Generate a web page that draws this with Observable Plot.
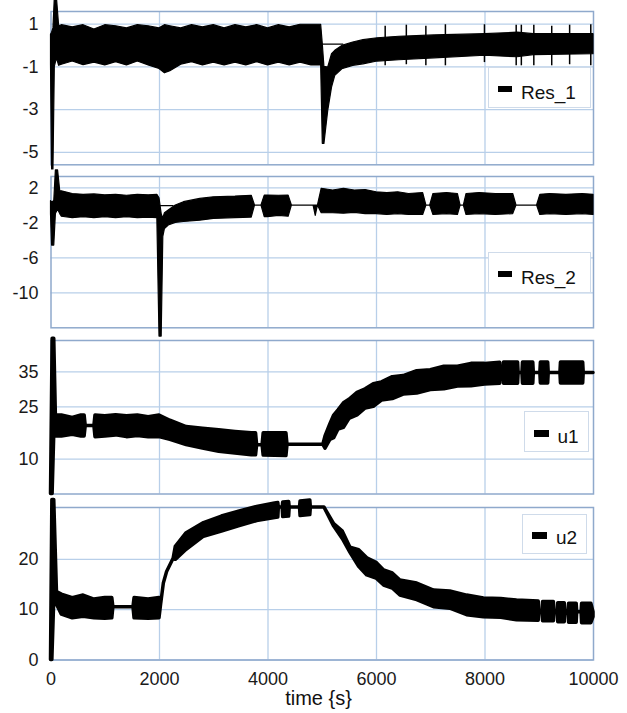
<!DOCTYPE html>
<html><head><meta charset="utf-8">
<script src="https://cdn.jsdelivr.net/npm/d3@7"></script>
<script src="https://cdn.jsdelivr.net/npm/@observablehq/plot@0.6"></script>
<style>
body{margin:0;background:#fff;font-family:"Liberation Sans",Arial,sans-serif;}
#chart{position:relative;width:627px;height:713px;overflow:hidden;background:#fff;}
.panel{position:absolute;left:0;}
.panel svg{overflow:visible;background:transparent;}
.legend{position:absolute;background:#fff;border:1px solid #cfdbea;box-sizing:border-box;font-size:19px;color:#111;}
.legend .sw{position:absolute;background:#000;}
.legend .lb{position:absolute;line-height:19px;white-space:nowrap;}
.xtitle{position:absolute;left:0;width:637px;text-align:center;font-size:20px;line-height:20px;color:#111;}
</style></head><body><div id="chart"></div>
<script>
// ---- shared axis data ----
const xTicks = [0, 2000, 4000, 6000, 8000, 10000];
const xGridTicks = [2000, 4000, 6000, 8000];
const xTitle = "time {s}";

// ---- Res_1 (envelope of the oscillating signal) ----
const res1Name = "Res_1";
const res1Ticks = [1, -1, -3, -5];
const res1Time = [0,20,45,70,110,150,200,400,600,800,1000,1200,1400,1600,1800,2000,2100,2200,2400,2600,2800,3000,3200,3400,3600,3800,4000,4200,4400,4600,4800,4980,5010,5040,5110,5180,5240,5370,5570,5760,6020,6420,7070,8000,8600,8900,10000];
const res1Low  = [-0.9,-5.8,-5.8,-1.0,-0.6,-0.95,-0.9,-0.75,-0.92,-0.8,-0.93,-0.78,-0.93,-0.75,-0.93,-1.1,-1.3,-1.2,-0.9,-0.78,-0.93,-0.8,-0.93,-0.8,-0.93,-0.78,-0.93,-0.8,-0.93,-0.8,-0.93,-0.93,-4.6,-4.6,-3.06,-1.97,-1.42,-1.11,-0.95,-0.88,-0.75,-0.69,-0.6,-0.48,-0.55,-0.45,-0.41];
const res1High = [0.5,0.6,0.8,2.2,2.2,0.9,0.95,0.85,0.95,0.75,0.95,0.9,0.8,0.95,0.9,0.8,0.95,0.9,0.8,0.95,0.85,0.95,0.8,0.95,0.85,0.95,0.8,0.95,0.85,0.97,0.97,0.97,0.06,-1.0,-1.03,-0.41,-0.25,-0.02,0.14,0.25,0.34,0.41,0.47,0.53,0.6,0.53,0.53];
const res1SpikeTime = [6160,6550,6910,7270,7990,8575,8670,8900,9230,9560,9950];
const res1SpikeLow  = [-0.95,-0.9,-0.95,-0.95,-0.8,-0.95,-0.95,-0.95,-0.95,-0.9,-0.95];
const res1SpikeHigh = [0.9,0.95,0.9,0.97,0.97,0.95,0.95,0.95,0.9,0.95,0.97];
const res1HoldTime = [4990, 5380];
const res1HoldValue = [0.06, 0.06];

// ---- Res_2 ----
const res2Name = "Res_2";
const res2Ticks = [2, -2, -6, -10];
const res2Time = [0,20,60,90,130,170,200,400,600,800,1000,1200,1400,1600,1800,1960,2000,2040,2070,2100,2170,2300,2450,2750,3000,3400,3700,3760,3880,3940,4000,4200,4380,4440,4840,4880,4920,4990,5200,5400,5600,5800,6000,6200,6400,6600,6860,6920,6990,7050,7300,7500,7550,7610,7660,7900,8200,8520,8580,8960,9020,9200,9500,9800,10000];
const res2Low  = [-1.0,-4.6,-4.6,-1.0,-0.5,-1.0,-1.3,-1.45,-1.35,-1.45,-1.35,-1.45,-1.35,-1.45,-1.4,-1.45,-15,-15,-3.6,-2.7,-2.3,-2.0,-1.9,-1.75,-1.55,-1.45,-1.4,-0.02,-0.02,-1.35,-1.35,-1.2,-1.3,-0.02,-0.02,-1.2,-0.02,-0.9,-0.9,-0.95,-0.85,-1.0,-1.0,-1.1,-1.0,-1.1,-1.1,-0.02,-0.02,-1.1,-1.0,-1.1,-0.02,-0.02,-1.1,-1.0,-1.1,-1.0,-0.02,-0.02,-1.1,-1.0,-1.1,-1.0,-1.1];
const res2High = [0.5,0.3,0.5,4.0,4.0,1.6,1.6,1.3,1.2,1.25,1.15,1.2,1.1,1.2,1.15,1.2,0.8,-1.0,-1.5,-0.9,-0.59,-0.02,0.36,0.74,0.93,1.0,1.1,-0.02,-0.02,1.12,1.12,1.1,1.12,-0.02,-0.02,-0.02,-0.02,1.9,1.7,1.9,1.7,1.75,1.5,1.4,1.5,1.3,1.4,-0.02,-0.02,1.3,1.4,1.3,-0.02,-0.02,1.3,1.4,1.3,1.3,-0.02,-0.02,1.2,1.3,1.2,1.3,1.2];
const res2HoldTime = [2000, 2250];
const res2HoldValue = [-0.02, -0.02];

// ---- u1 ----
const u1Name = "u1";
const u1Ticks = [35, 25, 10];
const u1Time = [0,30,60,90,200,400,560,620,640,800,820,1000,1200,1400,1600,1800,2000,2200,2500,2800,3100,3400,3700,3780,3800,3900,3920,4340,4360,5020,5060,5150,5220,5300,5400,5500,5650,5800,5950,6100,6300,6500,6750,7000,7250,7500,7750,8000,8280,8290,8340,8350,8610,8620,8690,8700,8890,8900,9020,9030,9165,9175,9390,9400,9810,9820,10000];
const u1Low  = [0,0,17,16.5,16.5,17.0,16.5,16.5,19.5,19.5,16.3,16.5,16.8,16.3,16.6,16.3,16.3,15.5,14.0,13.0,12.1,11.6,11.1,11.1,14.0,14.0,11.0,10.9,14.1,14.1,13.0,15.5,16.0,18.5,19.0,21.5,22.5,24.5,25.0,26.8,27.2,28.5,28.8,29.8,30.0,30.8,30.9,31.4,31.6,34.7,34.7,31.6,31.6,34.7,34.7,31.6,31.6,34.7,34.7,31.7,31.7,34.7,34.7,31.7,31.7,34.7,34.7];
const u1High = [0,44.5,44.5,22.5,22.5,21.8,22.5,22.5,19.5,19.5,22.5,22.3,22.6,22.3,22.5,22.0,22.5,21.0,19.2,18.7,18.3,17.8,17.4,17.4,14.0,14.0,17.4,17.4,14.1,14.1,16.5,20.0,22.5,24.0,26.0,27.0,29.0,30.0,31.5,32.0,33.5,33.8,35.2,35.5,36.5,36.5,37.3,37.3,37.6,34.7,34.7,37.7,37.7,34.7,34.7,37.7,37.7,34.7,34.7,37.7,37.7,34.7,34.7,37.7,37.7,34.7,34.7];

// ---- u2 ----
const u2Name = "u2";
const u2Ticks = [20, 10, 0];
const u2Time = [0,25,60,110,200,400,600,800,1000,1130,1150,1520,1540,1800,2000,2030,2080,2140,2260,2300,2500,2820,3150,3480,3800,4130,4190,4200,4270,4280,4390,4400,4590,4600,4780,4790,5040,5220,5380,5520,5680,5830,6000,6140,6300,6440,6750,7060,7360,7670,7980,8300,8590,8990,9000,9060,9070,9270,9280,9340,9350,9470,9480,9540,9550,9690,9700,9780,9790,9960,10000];
const u2Low  = [0,0,12,11,9.0,8.3,8.6,8.3,8.2,8.3,10.5,10.5,8.3,8.2,8.3,11,15.2,17.5,20.1,19.9,21.9,24.5,25.5,26.6,27.6,28.2,28.3,30.3,30.3,28.4,28.5,30.3,30.3,28.6,28.8,30.3,30.3,26.5,24.0,21.3,18.5,16.8,16.2,14.8,14.2,12.8,11.9,10.5,10.2,8.9,8.5,8.4,7.9,7.8,9.5,9.5,7.7,7.7,9.5,9.5,7.5,7.5,9.5,9.5,7.4,7.4,9.5,9.5,7.3,7.3,8.5];
const u2High = [0,31.8,31.8,13.5,13,12.3,12.8,12.0,12.3,12.3,10.5,10.5,12.3,12.0,12.3,11,15.2,17.5,20.1,22.5,25.2,27.2,28.5,29.5,30.4,31.1,31.2,30.3,30.3,31.3,31.4,30.3,30.3,31.5,31.7,30.3,30.3,27.0,25.5,22.3,21.8,20.2,19.3,17.8,17.2,15.8,15.2,13.8,13.6,12.8,12.2,12.1,11.8,11.6,9.5,9.5,11.5,11.5,9.5,9.5,11.3,11.3,9.5,9.5,11.2,11.2,9.5,9.5,11.2,11.2,9.5];

// ---- rendering ----
const gridColor = "#b8cfe9";
const frameColor = "#8fa9cc";
const textColor = "#1a1a1a";
const chart = document.getElementById("chart");
const zip = (t, lo, hi) => t.map((v, i) => ({t: v, lo: lo[i], hi: hi[i]}));
const fmt = d => String(d);

function panel(cfg) {
  const mt = 12, mb = cfg.mb ?? 12;
  const marks = [
    Plot.gridX(xGridTicks, {stroke: gridColor, strokeOpacity: 1, strokeWidth: 1.3}),
    Plot.gridY(cfg.ticks, {stroke: gridColor, strokeOpacity: 1, strokeWidth: 1.3}),
    Plot.frame({stroke: frameColor, strokeWidth: 1.5}),
    Plot.areaY(zip(cfg.time, cfg.low, cfg.high), {x: "t", y1: "lo", y2: "hi", fill: "#000", stroke: "#000", strokeWidth: cfg.sw, strokeLinejoin: "round"}),
    ...(cfg.extra || []),
    Plot.axisY(cfg.ticks, {tickSize: 0, tickPadding: 12.5, tickFormat: fmt, fontSize: 18, fill: textColor})
  ];
  if (cfg.xAxis) marks.push(Plot.axisX(xTicks, {tickSize: 0, tickPadding: 12, tickFormat: fmt, fontSize: 18, fill: textColor, label: null}));
  const svg = Plot.plot({
    width: 627, height: mt + cfg.frameH + mb,
    marginTop: mt, marginBottom: mb, marginLeft: 50.5, marginRight: 34,
    x: {domain: [0, 10000], axis: cfg.xAxis ? undefined : null},
    y: {domain: cfg.domain},
    style: {fontFamily: '"Liberation Sans", Arial, sans-serif', background: "transparent", overflow: "visible"},
    marks
  });
  const d = document.createElement("div");
  d.className = "panel";
  d.style.top = (cfg.frameTop - mt) + "px";
  d.appendChild(svg);
  chart.appendChild(d);
}

panel({time: res1Time, low: res1Low, high: res1High, ticks: res1Ticks, domain: [-5.58, 1.59], frameTop: 10.7, frameH: 153.3, sw: 1.2,
  extra: [
    Plot.ruleX(zip(res1SpikeTime, res1SpikeLow, res1SpikeHigh), {x: "t", y1: "lo", y2: "hi", stroke: "#000", strokeWidth: 1.5}),
    Plot.line(res1HoldTime.map((t, i) => ({t, v: res1HoldValue[i]})), {x: "t", y: "v", stroke: "#000", strokeWidth: 1.2})
  ]});
panel({time: res2Time, low: res2Low, high: res2High, ticks: res2Ticks, domain: [-14, 3.3], frameTop: 176.3, frameH: 151.3, sw: 1.2,
  extra: [
    Plot.line(res2HoldTime.map((t, i) => ({t, v: res2HoldValue[i]})), {x: "t", y: "v", stroke: "#000", strokeWidth: 1.2})
  ]});
panel({time: u1Time, low: u1Low, high: u1High, ticks: u1Ticks, domain: [0, 44], frameTop: 340.3, frameH: 153.5, sw: 3.5});
panel({time: u2Time, low: u2Low, high: u2High, ticks: u2Ticks, domain: [0, 30.3], frameTop: 507.3, frameH: 152.5, sw: 3.5, mb: 45, xAxis: true});

// ---- legends (HTML) ----
const legends = [
  {name: res1Name, left: 488, top: 67, w: 103, h: 41, sx: 9, sy: 18, sw: 14, sh: 6, tx: 32, ty: 14.5},
  {name: res2Name, left: 488, top: 252, w: 103, h: 41, sx: 9, sy: 18, sw: 14, sh: 6, tx: 32, ty: 15},
  {name: u1Name, left: 524, top: 411, w: 65, h: 41, sx: 9, sy: 18, sw: 15, sh: 6.5, tx: 32.5, ty: 15},
  {name: u2Name, left: 522, top: 514, w: 65, h: 40, sx: 9, sy: 17, sw: 15, sh: 6.5, tx: 33, ty: 13.3}
];
for (const L of legends) {
  const b = document.createElement("div");
  b.className = "legend";
  Object.assign(b.style, {left: L.left + "px", top: L.top + "px", width: L.w + "px", height: L.h + "px"});
  const s = document.createElement("div");
  s.className = "sw";
  Object.assign(s.style, {left: L.sx + "px", top: L.sy + "px", width: L.sw + "px", height: L.sh + "px"});
  const t = document.createElement("div");
  t.className = "lb";
  Object.assign(t.style, {left: L.tx + "px", top: L.ty + "px"});
  t.textContent = L.name;
  b.appendChild(s); b.appendChild(t);
  chart.appendChild(b);
}
const xt = document.createElement("div");
xt.className = "xtitle";
xt.style.top = "688px";
xt.textContent = xTitle;
chart.appendChild(xt);
</script>
</body></html>
